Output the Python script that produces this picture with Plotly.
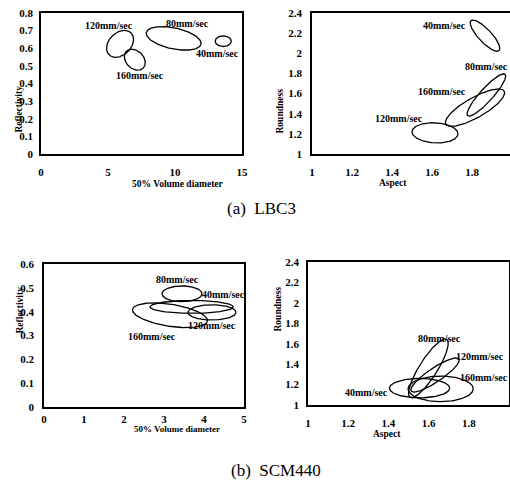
import numpy as np
import plotly.graph_objects as go

# ---------------- data ----------------
# Each ellipse: centre (cx, cy), major semi-axis vector (ax, ay), minor semi-axis vector (bx, by), data units
# Panel (a) left: Reflectivity vs 50% volume diameter
p1_labels = ["120mm/sec", "160mm/sec", "80mm/sec", "40mm/sec"]
p1_cx = [5.9, 7.0, 9.9, 13.6]
p1_cy = [0.625, 0.535, 0.656, 0.64]
p1_ax = [0.818, 0.627, 2.04, 0.6]
p1_ay = [0.0622, -0.0477, -0.033, 0.0]
p1_bx = [0.586, 0.468, -0.163, 0.0]
p1_by = [-0.0445, 0.0356, -0.0583, 0.03]
p1_lx = [5.08, 7.4, 10.9, 13.2]
p1_ly = [0.73, 0.448, 0.743, 0.573]

# Panel (a) right: Roundness vs Aspect
p2_labels = ["40mm/sec", "80mm/sec", "160mm/sec", "120mm/sec"]
p2_cx = [1.865, 1.872, 1.815, 1.615]
p2_cy = [2.175, 1.586, 1.46, 1.21]
p2_ax = [0.07, 0.0935, 0.146, 0.115]
p2_ay = [-0.149, 0.206, 0.164, -0.01]
p2_bx = [0.0238, 0.024, 0.0245, 0.0]
p2_by = [0.0441, -0.0436, -0.087, 0.1]
p2_lx = [1.66, 1.87, 1.65, 1.435]
p2_ly = [2.28, 1.867, 1.62, 1.354]

# Panel (b) left: Reflectivity vs 50% volume diameter
p3_labels = ["80mm/sec", "40mm/sec", "120mm/sec", "160mm/sec"]
p3_cx = [3.45, 3.69, 4.2, 3.15]
p3_cy = [0.475, 0.42, 0.397, 0.385]
p3_ax = [0.5, 1.04, 0.6, 0.9375]
p3_ay = [0.0, 0.0, 0.0, -0.0245]
p3_bx = [0.0, 0.0, 0.0, 0.0424]
p3_by = [0.033, 0.027, 0.032, 0.0456]
p3_lx = [3.33, 4.48, 4.19, 2.69]
p3_ly = [0.537, 0.473, 0.344, 0.295]

# Panel (b) right: Roundness vs Aspect
p4_labels = ["80mm/sec", "120mm/sec", "160mm/sec", "40mm/sec"]
p4_cx = [1.599, 1.632, 1.66, 1.555]
p4_cy = [1.359, 1.294, 1.158, 1.165]
p4_ax = [0.091, 0.119, 0.162, 0.15]
p4_ay = [0.284, 0.157, 0.0, 0.0]
p4_bx = [0.0378, 0.0194, 0.0, 0.0]
p4_by = [-0.047, -0.057, 0.125, 0.095]
p4_lx = [1.652, 1.856, 1.875, 1.289]
p4_ly = [1.655, 1.474, 1.27, 1.12]

captions = ["(a)\u00a0\u00a0LBC3", "(b)\u00a0\u00a0SCM440"]

# ---------------- figure ----------------
FONT = "Liberation Serif"
fig = go.Figure()
t = np.linspace(0, 2 * np.pi, 200)

panels = [
    (p1_cx, p1_cy, p1_ax, p1_ay, p1_bx, p1_by, p1_labels, p1_lx, p1_ly, "x", "y"),
    (p2_cx, p2_cy, p2_ax, p2_ay, p2_bx, p2_by, p2_labels, p2_lx, p2_ly, "x2", "y2"),
    (p3_cx, p3_cy, p3_ax, p3_ay, p3_bx, p3_by, p3_labels, p3_lx, p3_ly, "x3", "y3"),
    (p4_cx, p4_cy, p4_ax, p4_ay, p4_bx, p4_by, p4_labels, p4_lx, p4_ly, "x4", "y4"),
]

annotations = []
for cx, cy, ax, ay, bx, by, labels, lx, ly, xr, yr in panels:
    for i in range(len(cx)):
        xs = cx[i] + ax[i] * np.cos(t) + bx[i] * np.sin(t)
        ys = cy[i] + ay[i] * np.cos(t) + by[i] * np.sin(t)
        fig.add_trace(go.Scatter(x=xs, y=ys, mode="lines", xaxis=xr, yaxis=yr,
                                 line=dict(color="black", width=1.3),
                                 showlegend=False, hoverinfo="skip"))
        annotations.append(dict(x=lx[i], y=ly[i], xref=xr, yref=yr, text=labels[i],
                                showarrow=False,
                                font=dict(family=FONT, size=10, color="black", weight="bold")))

tickfont = dict(family=FONT, size=11, color="black", weight="bold")


def axis(domain, rng, dtick, anchor, standoff):
    return dict(domain=domain, range=rng, dtick=dtick, tick0=rng[0], anchor=anchor,
                showgrid=False, zeroline=False, showline=True, mirror=True,
                linecolor="black", linewidth=1.5, ticks="", tickfont=tickfont,
                ticklabelstandoff=standoff, automargin=False)


fig.update_layout(
    width=510, height=490,
    margin=dict(l=0, r=0, t=0, b=0, autoexpand=False),
    paper_bgcolor="white", plot_bgcolor="white",
    xaxis=axis([41 / 510, 242 / 510], [0, 15], 5, "y", 7),
    yaxis=axis([1 - 154 / 490, 1 - 13 / 490], [0, 0.8], 0.1, "x", 4),
    xaxis2=axis([312 / 510, 1.0], [1, 1.99], 0.2, "y2", 7),
    yaxis2=axis([1 - 154 / 490, 1 - 13 / 490], [1, 2.4], 0.2, "x2", 6),
    xaxis3=axis([44 / 510, 244 / 510], [0, 5], 1, "y3", 1),
    yaxis3=axis([1 - 407 / 490, 1 - 264 / 490], [0, 0.6], 0.1, "x3", 6),
    xaxis4=axis([308 / 510, 509 / 510], [1, 2], 0.2, "y4", 7),
    yaxis4=axis([1 - 405 / 490, 1 - 262 / 490], [1, 2.4], 0.2, "x4", 5),
)

titlefont = dict(family=FONT, size=9.5, color="black", weight="bold")
axis_titles = [
    ("50% Volume diameter", 130, 184, 0, 9.5),
    ("Reflectivity", 11, 84, -90, 9.5),
    ("Aspect", 409, 183, 0, 9.5),
    ("Roundness", 279, 87, -90, 9.5),
    ("50% Volume diameter", 132, 436, 0, 9),
    ("Reflectivity", 12, 336, -90, 9.5),
    ("Aspect", 403, 441, 0, 9.5),
    ("Roundness", 277, 334, -90, 9.5),
]
for txt, px, py, ang, fs in axis_titles:
    annotations.append(dict(x=px / 510, y=1 - py / 490, xref="paper", yref="paper",
                            text=txt, showarrow=False, textangle=ang,
                            font=dict(family=FONT, size=fs, color="black", weight="bold")))

for txt, px, py in [(captions[0], 261, 208), (captions[1], 276, 482)]:
    annotations.append(dict(x=px / 510, y=1 - py / 490, xref="paper", yref="paper",
                            text=txt, showarrow=False,
                            font=dict(family=FONT, size=17, color="black")))

fig.update_layout(annotations=annotations)
fig.write_html("out.html", config={"displayModeBar": False},
               post_script="document.body.style.margin='0px';document.body.style.padding='0px';")
